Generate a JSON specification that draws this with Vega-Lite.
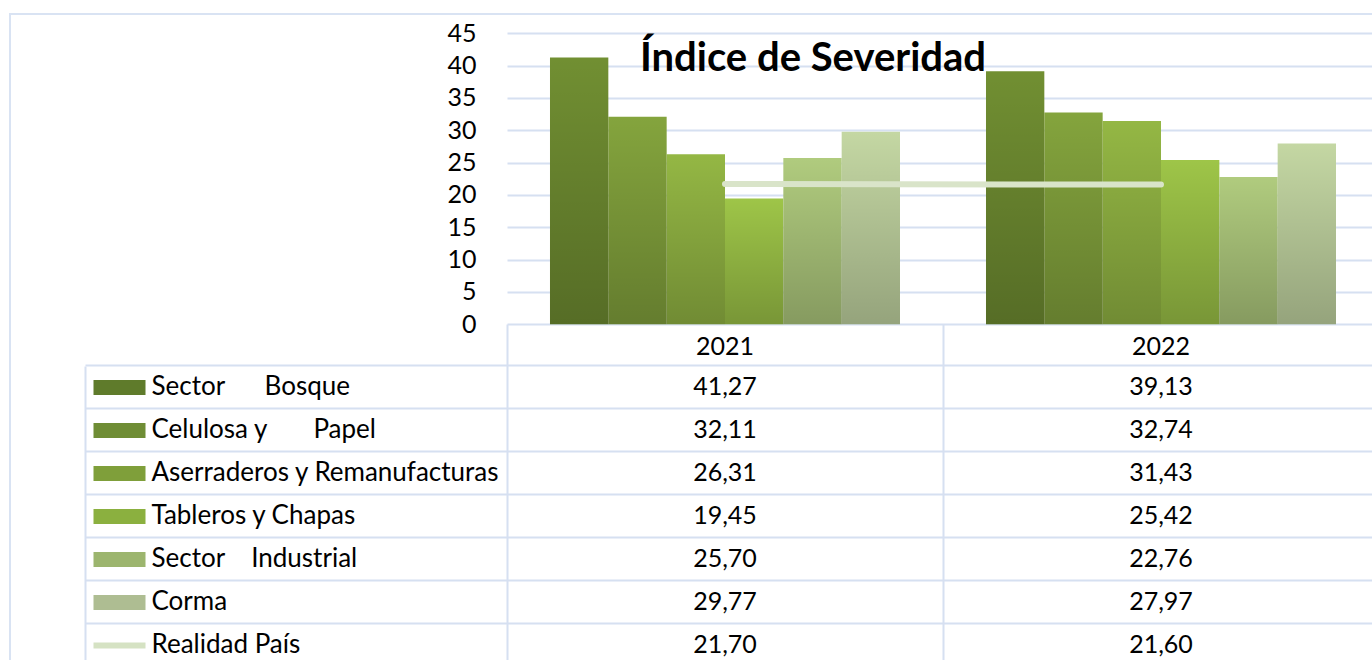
{
  "$schema": "https://vega.github.io/schema/vega-lite/v6.json",
  "width": 1369,
  "height": 653,
  "padding": {"left": 10, "top": 14, "right": -8, "bottom": -8},
  "background": "white",
  "config": {
    "font": "Lato",
    "locale": {"number": {"decimal": ",", "thousands": ".", "grouping": [3], "currency": ["", ""]}},
    "axis": {"minExtent": 0, "maxExtent": 3000},
    "view": {"stroke": "#d9e3f3", "strokeWidth": 2}
  },
  "title": {"text": "Índice de Severidad", "font": "Lato", "fontSize": 40, "fontWeight": "bold", "color": "black", "anchor": "middle", "frame": "bounds", "dx": 118, "dy": 34, "baseline": "top", "offset": -31},
  "data": {"values": [
    {"year": "2021", "series": "Sector Bosque", "value": 41.27},
    {"year": "2021", "series": "Celulosa y Papel", "value": 32.11},
    {"year": "2021", "series": "Aserraderos y Remanufacturas", "value": 26.31},
    {"year": "2021", "series": "Tableros y Chapas", "value": 19.45},
    {"year": "2021", "series": "Sector Industrial", "value": 25.70},
    {"year": "2021", "series": "Corma", "value": 29.77},
    {"year": "2021", "series": "Realidad País", "value": 21.70},
    {"year": "2022", "series": "Sector Bosque", "value": 39.13},
    {"year": "2022", "series": "Celulosa y Papel", "value": 32.74},
    {"year": "2022", "series": "Aserraderos y Remanufacturas", "value": 31.43},
    {"year": "2022", "series": "Tableros y Chapas", "value": 25.42},
    {"year": "2022", "series": "Sector Industrial", "value": 22.76},
    {"year": "2022", "series": "Corma", "value": 27.97},
    {"year": "2022", "series": "Realidad País", "value": 21.60}
  ]},
  "layer": [
    {
      "transform": [{"filter": "datum.series !== 'Realidad País'"}],
      "mark": {"type": "bar"},
      "encoding": {
        "x": {"field": "year", "type": "nominal", "scale": {"type": "band", "paddingInner": 0, "paddingOuter": 0.56995, "align": 1},
              "axis": {"orient": "top", "offset": -310, "labels": true, "labelAngle": 0, "labelFont": "Lato", "labelFontSize": 25, "labelColor": "black", "labelBaseline": "middle", "labelPadding": -22, "ticks": false, "domain": false, "grid": false, "title": null}},
        "xOffset": {"field": "series", "type": "nominal", "sort": ["Sector Bosque", "Celulosa y Papel", "Aserraderos y Remanufacturas", "Tableros y Chapas", "Sector Industrial", "Corma"], "scale": {"paddingInner": 0, "paddingOuter": 0.737}},
        "y": {"field": "value", "type": "quantitative", "scale": {"domain": [-53.0, 47.985], "nice": false, "zero": false},
              "axis": {"orient": "left", "values": [0, 5, 10, 15, 20, 25, 30, 35, 40, 45], "grid": false, "ticks": false, "domain": false, "labelPadding": -466, "labelAlign": "right", "labelBaseline": "middle", "labelFont": "Lato", "labelFontSize": 25, "labelColor": "black", "title": null}},
        "color": {"field": "series", "type": "nominal",
                  "scale": {"domain": ["Sector Bosque", "Celulosa y Papel", "Aserraderos y Remanufacturas", "Tableros y Chapas", "Sector Industrial", "Corma"], "range": ["#718f32", "#84a43d", "#94b744", "#9ec548", "#b0cb7e", "#c4d7a3"]},
                  "legend": null}
      }
    },
    {
      "transform": [{"filter": "datum.series !== 'Realidad País'"}],
      "mark": {"type": "bar", "fill": {"gradient": "linear", "x1": 0, "y1": 0, "x2": 0, "y2": 1, "stops": [{"offset": 0, "color": "rgba(0,0,0,0)"}, {"offset": 1, "color": "rgba(0,0,0,0.24)"}]}},
      "encoding": {
        "x": {"field": "year", "type": "nominal", "scale": {"type": "band", "paddingInner": 0, "paddingOuter": 0.56995, "align": 1},
              "axis": {"orient": "top", "offset": -310, "labels": false, "ticks": true, "tickBand": "extent", "tickSize": -343, "tickColor": "#d6e0f1", "tickWidth": 2, "domain": false, "grid": false, "zindex": 0, "title": null}},
        "xOffset": {"field": "series", "type": "nominal", "sort": ["Sector Bosque", "Celulosa y Papel", "Aserraderos y Remanufacturas", "Tableros y Chapas", "Sector Industrial", "Corma"], "scale": {"paddingInner": 0, "paddingOuter": 0.737}},
        "y": {"field": "value", "type": "quantitative", "scale": {"domain": [-53.0, 47.985], "nice": false, "zero": false},
              "axis": {"orient": "right", "values": [0, 5, 10, 15, 20, 25, 30, 35, 40, 45], "labels": false, "domain": false, "grid": false, "ticks": true, "tickSize": -872, "tickColor": "#d6e0f1", "tickWidth": 2, "zindex": 0, "title": null}}
      }
    },
    {
      "transform": [{"filter": "datum.series === 'Realidad País'"}],
      "mark": {"type": "line", "color": "#d9e4c9", "strokeWidth": 6, "strokeCap": "round"},
      "encoding": {
        "x": {"field": "year", "type": "nominal", "scale": {"type": "band", "paddingInner": 0, "paddingOuter": 0.56995, "align": 1}, "axis": null},
        "y": {"field": "value", "type": "quantitative", "scale": {"domain": [-53.0, 47.985], "nice": false, "zero": false}, "axis": null}
      }
    },
    {
      "mark": {"type": "text", "font": "Lato", "fontSize": 25, "color": "black"},
      "encoding": {
        "x": {"field": "year", "type": "nominal", "scale": {"type": "band", "paddingInner": 0, "paddingOuter": 0.56995, "align": 1}, "axis": null},
        "y": {"field": "series", "type": "nominal",
              "scale": {"type": "band", "domain": ["pad1", "pad2", "pad3", "pad4", "pad5", "pad6", "pad7", "pad8", "Sector Bosque", "Celulosa y Papel", "Aserraderos y Remanufacturas", "Tableros y Chapas", "Sector Industrial", "Corma", "Realidad País"], "paddingInner": 0, "paddingOuter": 0.093, "align": 1},
              "axis": {"orient": "left", "offset": -135, "values": ["Sector Bosque", "Celulosa y Papel", "Aserraderos y Remanufacturas", "Tableros y Chapas", "Sector Industrial", "Corma", "Realidad País"], "domain": false, "grid": false, "ticks": true, "tickSize": 52,
                       "tickWidth": {"condition": {"test": "datum.value === 'Realidad País'", "value": 6}, "value": 15},
                       "tickColor": {"condition": [
                         {"test": "datum.value === 'Sector Bosque'", "value": "#5f7b2b"},
                         {"test": "datum.value === 'Celulosa y Papel'", "value": "#6f8d35"},
                         {"test": "datum.value === 'Aserraderos y Remanufacturas'", "value": "#7f9f3a"},
                         {"test": "datum.value === 'Tableros y Chapas'", "value": "#8bb03f"},
                         {"test": "datum.value === 'Sector Industrial'", "value": "#9cb56e"},
                         {"test": "datum.value === 'Corma'", "value": "#aebd92"}
                       ], "value": "#d5e2c3"},
                       "labelAlign": "left", "labelBaseline": "middle", "labelPadding": -58, "labelLimit": 0, "labelFont": "Lato", "labelFontSize": 26, "labelColor": "black",
                       "labelExpr": "datum.label === 'Sector Bosque' ? 'Sector\u00a0\u00a0\u00a0\u00a0\u00a0\u00a0Bosque' : datum.label === 'Celulosa y Papel' ? 'Celulosa y\u00a0\u00a0\u00a0\u00a0\u00a0\u00a0\u00a0Papel' : datum.label === 'Sector Industrial' ? 'Sector\u00a0\u00a0\u00a0\u00a0Industrial' : datum.label",
                       "title": null}},
        "text": {"field": "value", "type": "quantitative", "format": ".2f"}
      }
    },
    {
      "mark": {"type": "text", "opacity": 0},
      "encoding": {
        "x": {"datum": "lbl", "type": "nominal", "scale": {"type": "band", "domain": ["lbl"], "paddingInner": 0, "paddingOuter": 1, "align": 0.08218},
              "axis": {"orient": "bottom", "bandPosition": 0, "labels": false, "domain": false, "grid": false, "ticks": true, "tickSize": -301, "tickColor": "#d6e0f1", "tickWidth": 2, "zindex": 0, "title": null}},
        "y": {"field": "series", "type": "nominal",
              "scale": {"type": "band", "domain": ["pad1", "pad2", "pad3", "pad4", "pad5", "pad6", "pad7", "pad8", "Sector Bosque", "Celulosa y Papel", "Aserraderos y Remanufacturas", "Tableros y Chapas", "Sector Industrial", "Corma", "Realidad País"], "paddingInner": 0, "paddingOuter": 0.093, "align": 1},
              "axis": {"orient": "right", "bandPosition": 0, "values": ["Sector Bosque", "Celulosa y Papel", "Aserraderos y Remanufacturas", "Tableros y Chapas", "Sector Industrial", "Corma", "Realidad País"], "labels": false, "domain": false, "grid": false, "ticks": true, "tickSize": -1294, "tickColor": "#d6e0f1", "tickWidth": 2, "zindex": 0, "title": null}}
      }
    }
  ],
  "resolve": {"scale": {"x": "independent", "y": "independent", "xOffset": "independent"}, "axis": {"x": "independent", "y": "independent"}}
}
